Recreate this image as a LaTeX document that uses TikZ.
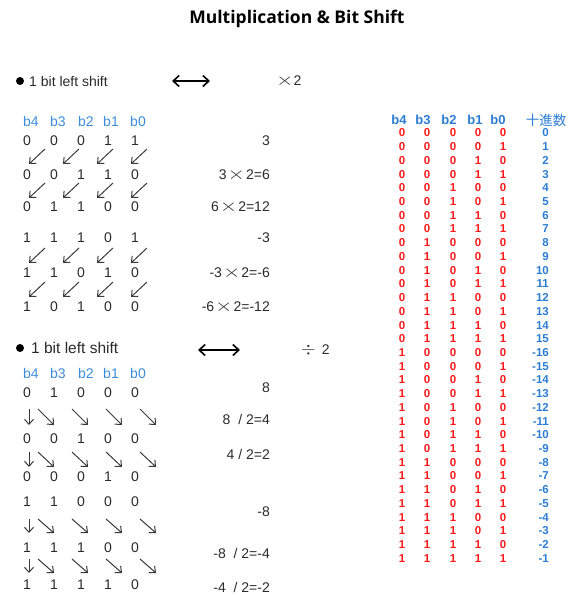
\documentclass[tikz,border=0pt]{standalone}
\usepackage{graphicx}
\usepackage{fontspec}
\setmainfont{Liberation Sans}
\newfontfamily\titlefont{Open Sans}
\newfontfamily\cjkfont{Noto Sans CJK JP}
\usetikzlibrary{arrows.meta}
\definecolor{hdrblue}{HTML}{3C8DDB}
\definecolor{tblblue}{HTML}{2B7CD3}
\definecolor{bitred}{HTML}{FF1A1A}
\definecolor{arrowgray}{HTML}{3A3A3A}
\definecolor{inkgray}{HTML}{2A2A2A}
% a wide, thin multiplication sign centred on the digits
\newcommand\widetimes{\raisebox{0.6pt}{\scalebox{1.55}[1.2]{$\times$}}}
\newcommand\timessign{\hspace{1pt}\widetimes\hspace{1pt}}
\newcommand\divsign{\raisebox{0.5pt}{\scalebox{1.3}[1.2]{$\div$}}}

\begin{document}
\begin{tikzpicture}[x=1pt,y=-1pt,
  titletext/.style={font=\titlefont\fontsize{17.5}{17.5}\selectfont\bfseries, inner sep=0pt},
  plain/.style={font=\fontsize{14}{14}\selectfont, text=inkgray, inner sep=0pt},
  bithead/.style={plain, text=hdrblue},
  result/.style={plain, anchor=east},
  bulletdot/.style={circle, fill=black, minimum size=8pt, inner sep=0pt},
  shiftarrow/.style={draw=arrowgray, line width=1pt, -{Straight Barb[length=5pt,width=9pt]}},
  equiv/.style={draw=black, line width=1.6pt,
    {Straight Barb[length=6pt,width=11pt]}-{Straight Barb[length=6pt,width=11pt]}},
  tblhead/.style={font=\fontsize{13}{13}\selectfont\bfseries, text=tblblue, inner sep=0pt},
  tbldigit/.style={font=\fontsize{11.5}{11.5}\selectfont\bfseries, text=bitred, inner sep=0pt},
  tbldec/.style={font=\fontsize{11.5}{11.5}\selectfont\bfseries, text=tblblue, inner sep=0pt, anchor=east},
]
\useasboundingbox (0,0) rectangle (575,596);

% ---------- title ----------
\node[titletext] (title) at (297,19) {Multiplication \& Bit Shift};

% ---------- left shift section ----------
\node[bulletdot] (mbul) at (20,81) {};
\node[plain, anchor=west] (mlabel) at (29,81) {1 bit left shift};
\coordinate (meqL) at (172,81);
\coordinate (meqR) at (210,81);
\draw[equiv] (meqL) -- (meqR);
\node[plain, anchor=west] (mop) at (276,81) {\widetimes 2};

\foreach \n/\x in {4/31,3/58,2/86,1/111,0/138}
  \node[bithead] (mh\n) at (\x,121) {b\n};

\foreach \r/\y/\bits in {1/141/{0,0,0,1,1}, 2/175/{0,0,1,1,0}, 3/207/{0,1,1,0,0},
                         4/238/{1,1,1,0,1}, 5/273/{1,1,0,1,0}, 6/307/{1,0,1,0,0}}{
  \foreach \v [count=\c] in \bits {
    \pgfmathsetmacro\xx{27+(\c-1)*27}
    \node[plain] (m\r-\c) at (\xx,\y) {\v};
  }
}

\foreach \k/\ty in {1/164,2/198,3/263,4/297}{
  \foreach \c/\tx in {1/29,2/63,3/97,4/131}{
    \coordinate (ma\k-\c-s) at (\tx+16,\ty-15);
    \coordinate (ma\k-\c-e) at (\tx,\ty);
    \draw[shiftarrow] (ma\k-\c-s) -- (ma\k-\c-e);
  }
}

\node[result] (mr1) at (270,141) {3};
\node[result] (mr2) at (270,175) {3\timessign 2=6};
\node[result] (mr3) at (270,207) {6\timessign 2=12};
\node[result] (mr4) at (270,238) {-3};
\node[result] (mr5) at (270,273) {-3\timessign 2=-6};
\node[result] (mr6) at (270,307) {-6\timessign 2=-12};

% ---------- right shift section ----------
\node[bulletdot] (dbul) at (20,348) {};
\node[plain, anchor=west, font=\fontsize{15.5}{15.5}\selectfont] (dlabel) at (31,348) {1 bit left shift};
\coordinate (deqL) at (198,350);
\coordinate (deqR) at (240,350);
\draw[equiv] (deqL) -- (deqR);
\node[plain, anchor=west] (dop) at (301,350) {\divsign\hspace{6pt}2};

\foreach \n/\x in {4/31,3/58,2/86,1/111,0/138}
  \node[bithead] (dh\n) at (\x,373) {b\n};

\foreach \r/\y/\bits in {1/393/{0,1,0,0,0}, 2/439/{0,0,1,0,0}, 3/477/{0,0,0,1,0},
                         4/502/{1,1,0,0,0}, 5/548/{1,1,1,0,0}, 6/585/{1,1,1,1,0}}{
  \foreach \v [count=\c] in \bits {
    \pgfmathsetmacro\xx{27+(\c-1)*27}
    \node[plain] (d\r-\c) at (\xx,\y) {\v};
  }
}

\foreach \k/\ta/\tb in {1/409/425, 2/452/467, 3/519/533, 4/559/573}{
  \coordinate (da\k-0-s) at (29,\ta);
  \coordinate (da\k-0-e) at (29,\tb);
  \draw[shiftarrow] (da\k-0-s) -- (da\k-0-e);
  \foreach \c/\sx in {1/38,2/72,3/106,4/140}{
    \coordinate (da\k-\c-s) at (\sx,\ta);
    \coordinate (da\k-\c-e) at (\sx+16,\tb);
    \draw[shiftarrow] (da\k-\c-s) -- (da\k-\c-e);
  }
}

\node[result] (dr1) at (270,388) {8};
\node[result] (dr2) at (270,419) {8\ \ / 2=4};
\node[result] (dr3) at (270,454) {4 / 2=2};
\node[result] (dr4) at (270,512) {-8};
\node[result] (dr5) at (270,553) {-8\ \ / 2=-4};
\node[result] (dr6) at (270,587) {-4\ \ / 2=-2};

% ---------- 5-bit two's complement table ----------
\foreach \n/\x in {4/399,3/423,2/449,1/475,0/498}
  \node[tblhead] (th\n) at (\x,120) {b\n};
\node[tblhead, font=\cjkfont\fontsize{13.5}{13.5}\selectfont] (thdec) at (546,120) {十進数};

\foreach \i in {0,...,31}{
  \pgfmathsetmacro\yy{133+\i*13.72}
  \foreach \b/\xx in {4/402,3/427,2/453,1/478,0/503}{
    \pgfmathtruncatemacro\bit{mod(floor(\i/2^\b),2)}
    \node[tbldigit] (t\i-b\b) at (\xx,\yy) {\bit};
  }
  \pgfmathtruncatemacro\dec{\i<16 ? \i : \i-32}
  \node[tbldec] (t\i-d) at (549,\yy) {\dec};
}
\end{tikzpicture}
\end{document}
